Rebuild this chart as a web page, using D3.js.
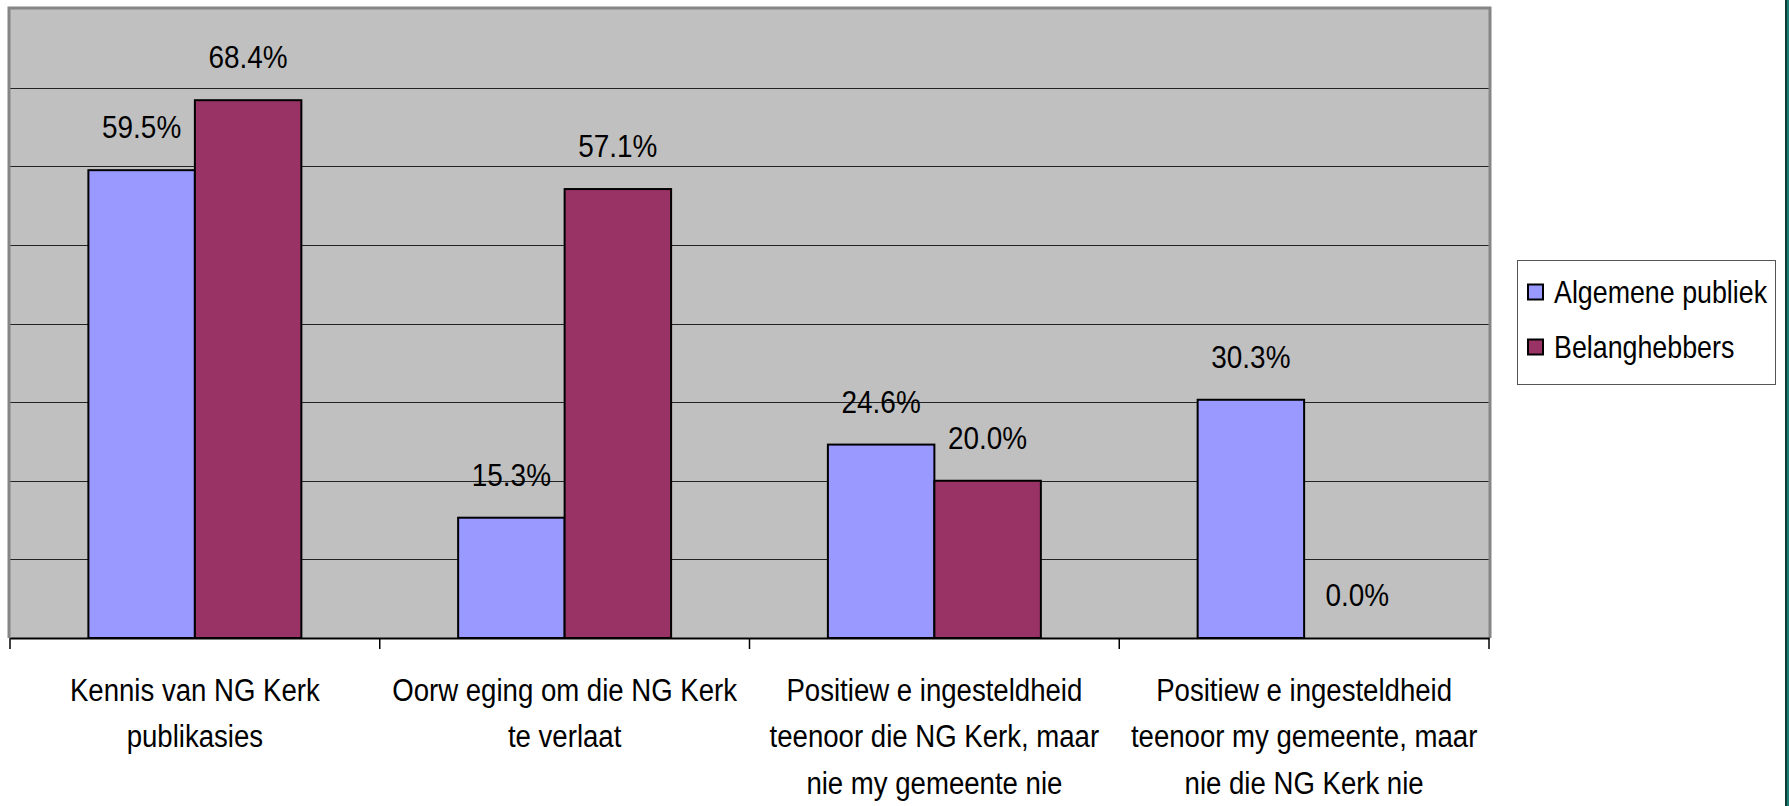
<!DOCTYPE html>
<html>
<head>
<meta charset="utf-8">
<script src="https://cdn.jsdelivr.net/npm/d3@7"></script>
<style>
    html, body { margin: 0; padding: 0; background: #ffffff; }
    svg { display: block; }
    text { font-family: "Liberation Sans", Arial, sans-serif; fill: #000; }
</style>
</head>
<body>
<svg id="chart" width="1789" height="806"></svg>
<script>
// Categories (as printed on the axis, line by line)
const categories = ["kennis", "oorweging", "positief_kerk", "positief_gemeente"];
const categoryLines = [
    ["Kennis van NG Kerk", "publikasies"],
    ["Oorw eging om die NG Kerk", "te verlaat"],
    ["Positiew e ingesteldheid", "teenoor die NG Kerk, maar", "nie my gemeente nie"],
    ["Positiew e ingesteldheid", "teenoor my gemeente, maar", "nie die NG Kerk nie"]
];
const seriesNames = ["Algemene publiek", "Belanghebbers"];
const seriesColors = ["#9999ff", "#993366"];
const algemenePubliek = [0.595, 0.153, 0.246, 0.303];
const belanghebbers = [0.684, 0.571, 0.200, 0.000];
const yTicks = [0.1, 0.2, 0.3, 0.4, 0.5, 0.6, 0.7];

const svg = d3.select("#chart");
const plot = { left: 10, right: 1489, top: 9, bottom: 638 };
const SX = 0.89; // text in the source looks horizontally condensed

const x0 = d3.scaleBand().domain(categories).range([plot.left, plot.right]).padding(0);
const bw = x0.bandwidth();
const x1 = d3.scaleBand().domain(seriesNames).range([bw * 0.212, bw * 0.788]).padding(0);
const y = d3.scaleLinear().domain([0, 0.8]).range([plot.bottom, plot.top]);

const rows = categories.map((c, i) => ({
    cat: c,
    values: [algemenePubliek[i], belanghebbers[i]]
}));

// plot background
svg.append("rect")
    .attr("x", plot.left).attr("y", plot.top)
    .attr("width", plot.right - plot.left).attr("height", plot.bottom - plot.top)
    .attr("fill", "#c0c0c0");

// gridlines
svg.append("g").selectAll("line")
    .data(yTicks)
    .join("line")
    .attr("x1", plot.left).attr("x2", plot.right)
    .attr("y1", d => Math.round(y(d)) + 0.5).attr("y2", d => Math.round(y(d)) + 0.5)
    .attr("stroke", "#222").attr("stroke-width", 1.2);

// plot border (top, left, right)
svg.append("path")
    .attr("d", `M${plot.left - 1},${plot.bottom} V${plot.top - 1} H${plot.right + 1} V${plot.bottom}`)
    .attr("fill", "none").attr("stroke", "#858585").attr("stroke-width", 3);

// bars
const groups = svg.append("g").selectAll("g")
    .data(rows)
    .join("g")
    .attr("transform", d => `translate(${x0(d.cat)},0)`);

groups.selectAll("rect")
    .data(d => d.values.map((v, j) => ({ v, s: seriesNames[j], j })))
    .join("rect")
    .attr("x", d => x1(d.s))
    .attr("y", d => y(d.v))
    .attr("width", x1.bandwidth())
    .attr("height", d => y(0) - y(d.v))
    .attr("fill", d => seriesColors[d.j])
    .attr("stroke", "#000").attr("stroke-width", 2);

// value labels
groups.selectAll("g.lbl")
    .data(d => d.values.map((v, j) => ({ v, s: seriesNames[j] })))
    .join("g")
    .attr("class", "lbl")
    .attr("transform", d => `translate(${x1(d.s) + x1.bandwidth() / 2},${y(d.v) - 32}) scale(0.9,1)`)
    .append("text")
    .attr("text-anchor", "middle")
    .attr("font-size", 31)
    .text(d => d3.format(".1%")(d.v));

// x axis line and ticks
const xAxis = d3.axisBottom(x0).tickSize(0).tickFormat("");
svg.append("g").attr("transform", `translate(0,${plot.bottom})`).call(xAxis)
    .call(g => g.select(".domain").attr("stroke", "#000").attr("stroke-width", 2));
svg.append("g").selectAll("line")
    .data(d3.range(categories.length + 1))
    .join("line")
    .attr("x1", i => plot.left + i * bw).attr("x2", i => plot.left + i * bw)
    .attr("y1", plot.bottom).attr("y2", plot.bottom + 11)
    .attr("stroke", "#000").attr("stroke-width", 1.5);

// category labels
const catLabels = svg.append("g").selectAll("g")
    .data(categories)
    .join("g")
    .attr("transform", (d, i) => `translate(${x0(d) + bw / 2},701) scale(${SX},1)`);
catLabels.selectAll("text")
    .data((d, i) => categoryLines[i])
    .join("text")
    .attr("text-anchor", "middle")
    .attr("font-size", 31)
    .attr("y", (d, k) => k * 46.5)
    .text(d => d);

// legend
const legend = svg.append("g");
legend.append("rect")
    .attr("x", 1517.5).attr("y", 260.5).attr("width", 258).attr("height", 124)
    .attr("fill", "#fff").attr("stroke", "#555").attr("stroke-width", 1);
const items = legend.selectAll("g")
    .data(seriesNames)
    .join("g")
    .attr("transform", (d, i) => `translate(1528,${292 + i * 55})`);
items.append("rect")
    .attr("x", 0).attr("y", -7.5).attr("width", 15).attr("height", 15)
    .attr("fill", (d, i) => seriesColors[i])
    .attr("stroke", "#000").attr("stroke-width", 2);
items.append("g")
    .attr("transform", `translate(26,11) scale(0.865,1)`)
    .append("text")
    .attr("font-size", 31)
    .text(d => d);

// window frame strip on the far right
svg.append("rect").attr("x", 1785).attr("y", 0).attr("width", 2).attr("height", 806).attr("fill", "#0d3b37");
svg.append("rect").attr("x", 1787).attr("y", 0).attr("width", 2).attr("height", 806).attr("fill", "#1f7f74");
</script>
</body>
</html>
